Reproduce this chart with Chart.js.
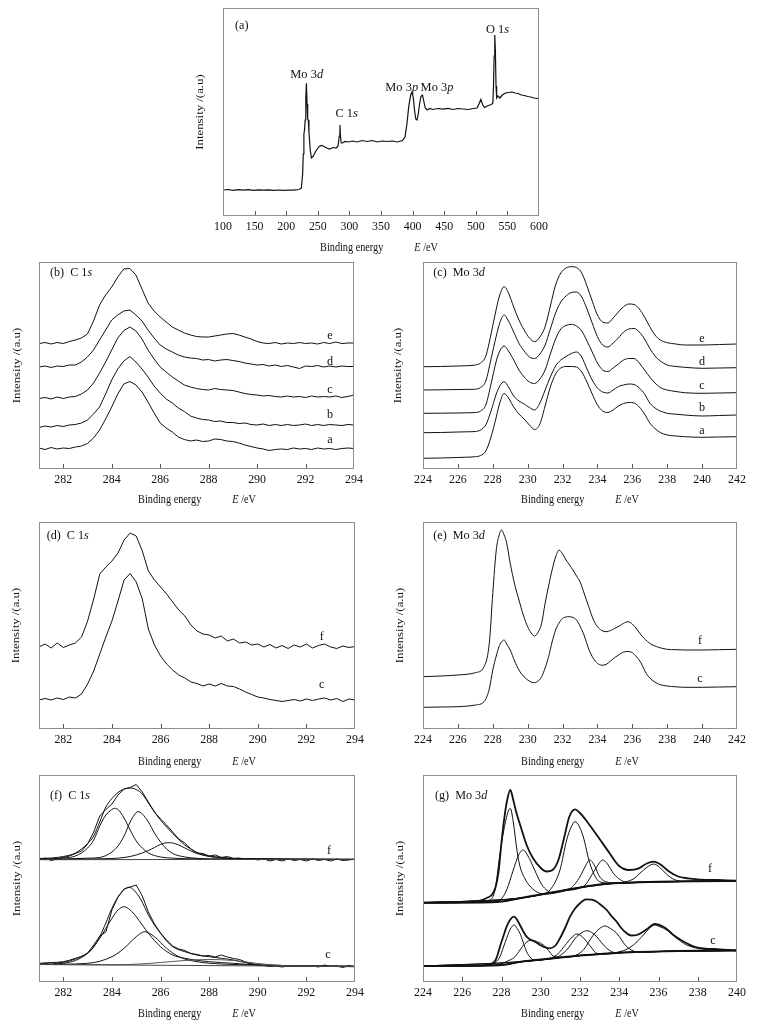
<!DOCTYPE html>
<html><head><meta charset="utf-8">
<script src="https://cdn.jsdelivr.net/npm/chart.js@4.4.1/dist/chart.umd.min.js"></script>
<style>
html,body{margin:0;padding:0;background:#fff;}
body{width:763px;height:1026px;position:relative;overflow:hidden;}
canvas{position:absolute;}
</style></head><body>
<canvas id="pa"></canvas><canvas id="pb"></canvas><canvas id="pc"></canvas>
<canvas id="pd"></canvas><canvas id="pe"></canvas><canvas id="pf"></canvas><canvas id="pg"></canvas>
<script>
// ---------- tick labels ----------
const ticksA = [100,150,200,250,300,350,400,450,500,550,600];
const ticksC1s = [282,284,286,288,290,292,294];
const ticksMo = [224,226,228,230,232,234,236,238,240,242];
const ticksMoG = [224,226,228,230,232,234,236,238,240];

// ---------- (a) survey ----------
const aX = [100,108,116,124,132,140,148,156,164,172,180,188,196,204,212,220,224,226,227,228,229,230,231,232,233,234,235,236,238,240,243,247,252,256,260,264,269,274,279,282,284,285,286,287,289,293,298,305,312,320,328,336,344,352,360,368,376,384,388,391,394,397,399,401,403,405,407,409,411,413,415,416,418,420,423,427,432,440,448,456,464,472,480,488,496,502,505,508,511,514,518,522,525,527,528,529,530,531,532,533,535,538,542,547,552,557,562,567,572,577,582,587,592,597,600];
const aY = [26,26.5,25.6,26.3,25.8,26.4,25.7,26.2,25.9,26.1,25.6,26,25.7,26,25.8,26.5,28,42,62,82,86,96,118,132.7,112,97,96,84,66,58,60,65,69.5,70.5,69.5,68,67,68.5,68,70,80,91,79,73,73,74.5,74,75,74,75.5,74.5,75.5,74,75,74.5,75,74,75.5,79,92,110,121,124,119,106,97,96,102,112,119,121,120,114,108,106,107.5,106.5,107.5,106.8,107.6,106.5,107.5,107,106.5,107.5,108,112,116.5,111,108.5,110,111,111.5,113,130,160,181,165,130,118,120,118,121,123,123.5,124,123,122.5,121,120.5,119.5,119,118,117.5,117.5];

// ---------- C 1s grid (b, d, f data) ----------
const c1sX = [281,281.25,281.5,281.75,282,282.25,282.5,282.75,283,283.25,283.5,283.75,284,284.25,284.5,284.75,285,285.25,285.5,285.75,286,286.25,286.5,286.75,287,287.25,287.5,287.75,288,288.25,288.5,288.75,289,289.25,289.5,289.75,290,290.25,290.5,290.75,291,291.25,291.5,291.75,292,292.25,292.5,292.75,293,293.25,293.5,293.75,294];
// (b)
const bA = [21,19.5,21.5,20,21,20.5,22,23,25.5,31,39,50,62,75,85,87.5,84,77,67,56,46,41,37,32,29.5,28,29,27.5,28,30,29.5,28,27.5,26,24,22.5,21,20,18.5,19.5,20,19.5,21,20,20.5,19.5,21,20,20.5,19.5,20.5,21,20.5];
const bB = [41.5,43,42,43.5,42.5,44,44.5,46,49,55,62,75,89,100,108,112.5,107,100,92,83,76,70,66,61,57.5,53,51,49.5,49,47.5,48,46.5,46.5,45.5,46,44.5,44,45,43.5,44.5,43.5,44.5,43.5,44,45,43.5,44.5,43.5,44.5,44,43.5,44.5,44];
const bC = [70.5,71.5,70,72,70.5,72,72.5,75,79,86,96,107,119,131,138.5,142,138,130,119,110,102,97,92,88,84,82,80.5,79.5,79,80.5,79.5,79,78.5,77,75.5,74.5,74,73,73.5,72.5,72,73,72,72.5,71.5,73,72,72.5,72,73,71.5,72.5,74];
const bD = [102,103,101.5,103,102.5,104,104,107,112,119,129,139,149,154,158,159,154,148,139,131,124,120,117,114,112,111,110.5,109,109.5,108,109,109.5,108.5,107.5,106,105,104,104.5,103,104,102.5,103.5,102,100.5,103,102.5,103.5,102,103,102,103,102.5,102.5];
const bE = [125.5,126.5,125,126.5,125.5,127.5,129,131,135,148,164,174,182,192,200,200.5,194,180,166,158,152,147,142,139,136,134,132.5,132,132,133,134,135,135.5,134,132,130,127.5,126,125.5,126.5,125,126,125.5,126.5,125.5,126,125,126.5,125.5,127,125.5,126,126];

// ---------- (c) Mo 3d ----------
const cX = [224,225,226,226.5,227,227.3,227.6,227.9,228.2,228.4,228.65,228.9,229.2,229.5,229.8,230.1,230.4,230.7,231,231.3,231.6,231.9,232.2,232.5,232.8,233.1,233.4,233.7,234,234.3,234.6,234.9,235.2,235.5,235.8,236.1,236.4,236.7,237,237.3,237.6,238,238.5,239,240,241,242];
const cA = [10.7,11,11.5,11.8,12.3,13.5,18,32,52,66,75.5,71,62,55,50,44,39.5,45,63,82,95,101,102.5,102.5,102,97,87,75,64,58,56.5,59,63,65.5,66.5,66,62,55,46,40.5,36.5,34,33,32.3,31.7,32,32.3];
const cB = [36.3,36.5,37,37.2,37.5,39,44,58,75,83,87.3,82,73,68,65,61.5,59,66,79,92,103,109,112.5,115.5,117,112,100,89,81,77,76,79,82.5,84,85,84.5,81,75,66,61,58,55.7,54.8,54,53,53.5,54];
const cC = [55.7,55.8,56,56.2,56.5,58,64,85,108,118,123,118,109,99,92,87,85.5,90,99,115,130,140,143.5,144.7,143,138,128,117,106,99,97.5,101,105,109,110.5,110.5,106,99,92,86,81.5,79,77.5,76.3,75.7,76,76.3];
const cD = [79,79.2,79.5,79.6,79.8,81.5,88,110,133,146,154,148,137,125.7,118,112,110.5,115,124,140,156,167,173,176.5,177,172,160,146,132.3,124,122,126,131,137,140,140.5,137,130,120.7,113,108,104,102.5,101.7,100.7,101,101.3];
const cE = [102.3,102.5,103,103.3,104,106,113,135,160,174,182.3,176,162,149,139,131,127.3,132,142.3,163,184,196,201,202.3,201.5,196,183,168,154,147,146,151,157,162.3,165,164.5,160,152,142.3,134,129,126.3,125,124,124,124.5,125];

// ---------- (d) C 1s ----------
const dF = [82,85,81,86,81.5,84,86,92,108,130,155,162,168,176,189,196,193,178,158,149,142,135,127,119,113,104,98,95,94,91,93,88,90,86,87,84,85,82,84.5,81,83.5,80.5,84,82,85,81,83.5,85,82,80.5,83,81.5,82.5];
const dC = [29,30.5,29,31,29.5,32,31,35,45,58,75,92,108,128,149,155.5,147,130,100,84,73,65,59,54,51,47,45.5,43,45,43,45.5,43,42.5,40,37,34.5,32,31,29.5,28.5,27.5,28.5,29.5,28,30,28.5,30,31,29,30.5,27.5,30,29];

// ---------- (e) Mo 3d ----------
const eX = [224,225,226,227,227.5,227.8,228,228.2,228.35,228.5,228.65,228.8,229,229.25,229.5,229.75,230,230.2,230.4,230.6,230.8,231,231.2,231.4,231.6,231.8,232,232.2,232.4,232.6,232.8,233,233.25,233.5,233.75,234,234.25,234.5,234.75,235,235.25,235.5,235.75,236,236.25,236.5,236.75,237,237.5,238,238.5,239,240,241,242];
const eF = [52.3,53,54,56.3,62.3,85.7,135.7,179,193,199,194,185.7,165.7,145,129,114,102.3,96,93,97,105.7,125.7,143,159,172,179,175,169,164,159,153,147.3,135,122.3,110,102.3,98.5,97.3,98.5,100.7,103,105.7,107.3,105,100,94,89.5,85.7,81.7,79.7,79.3,79,79,79.3,79.7];
const eC = [21.7,22,22.3,24,27.3,40,59,73,82,87,89,85,79,68,59,53,49,47,46.3,48,52.3,61,72.3,87,99,106,110.7,112,112.3,111.5,109,103,93,80,71,65.7,63.8,64.5,68,71.5,74.5,77,77.5,76.3,72,66,57,51,45,43,42.2,41.7,41.7,42,42.3];

// ---------- (f) C 1s fitting ----------
const fF = [122,124,121.5,123,124.5,126,128.5,131,138,150,166,172.5,178,187,193,194.5,197.5,190,180,170,163,157,150,143,139,133,129,128.5,126,127,124.5,125.5,123.5,124,122.5,123.5,122,123,121,122.5,121,123,121.5,122.5,121,123,121.5,122.5,121,123,121.5,122,123];
const fFenvX = [281,281.5,282,282.5,283,283.25,283.5,283.75,284,284.25,284.5,284.75,285,285.25,285.5,285.75,286,286.25,286.5,286.75,287,287.25,287.5,287.75,288,288.5,289,290,291,292,293,294];
const fFenvY = [123.5,124,125.5,129,138.5,146,160,175,183.5,189.5,193,194,192.5,188,179,170,162,155,148.5,142.5,137,133,129.5,127.5,126,124.7,123.7,123.3,123,122.8,122.6,122.5];
const fF1X = [281,282,282.5,283,283.25,283.5,283.75,284,284.1,284.25,284.5,284.75,285,285.25,285.5,285.75,286,286.5,287,288,290,294];
const fF1Y = [122.8,124,126,134,142,156,167,172.5,173.7,172.5,164,152,141,134,129,126.5,125,123.8,123.3,123,122.8,122.5];
const fF2X = [281,282,283,283.5,284,284.25,284.5,284.75,285,285.07,285.25,285.5,285.75,286,286.25,286.5,287,287.5,288,294];
const fF2Y = [122.5,123,123.8,124.5,130,136,146,160,169.5,170.3,168,160,149,140,133,128.5,125,123.7,123,122.5];
const fF3X = [281,284,284.5,285,285.5,285.75,286,286.3,286.5,286.75,287,287.25,287.5,288,288.5,289,294];
const fF3Y = [122.6,123.5,124.5,127,131.5,134.5,137.5,139.3,139,137,134,131,128.5,125.5,124,123.3,122.8];
const fFbgX = [281,294];
const fFbgY = [122.3,122.7];
const fC = [17,18.5,17.5,19,19.5,21,23,25.5,29,37,46,50,72,85,93,95,97,86,70,58,49,42,36,33,31.5,28.5,27.5,26,26.5,25,27,25,23.5,22.5,20,18.5,17,16.5,15.5,16,15,16,15.5,16.5,15.5,16,15,17,15.5,16,14.5,16.5,15];
const fCenvX = [281,281.5,282,282.5,283,283.25,283.5,283.75,284,284.25,284.5,284.7,284.9,285.2,285.5,285.75,286,286.25,286.5,287,287.5,288,288.5,289,289.5,290,291,292,294];
const fCenvY = [18.7,19.5,20.3,23.7,28.7,35,45.3,59,73.7,85,92.5,94.7,92,82,67,57,48.7,41,35.3,30.3,27,25.3,23.7,22,19.3,17,16,15.7,15.3];
const fC1X = [281,282,283,283.5,284,284.25,284.5,284.75,285,285.5,286,286.5,287,288,289,290,294];
const fC1Y = [17.8,18.7,28.7,43.7,63.7,72,75.3,72,65.3,48.7,35.3,27,23.7,20.3,18.7,17,16];
const fC2X = [281,283,284,284.5,285,285.35,285.75,286.25,286.75,287.5,288.5,290,294];
const fC2Y = [17.5,18.7,25.3,33.7,45.3,50.3,45.3,33.7,25.3,20.3,18,17,15.5];
const fC3X = [281,284,285,286,287,288,289,290,291,294];
const fC3Y = [17.5,17.2,17.8,19.5,21.5,22.5,21.5,18.5,16.5,15.5];
const fCbgX = [281,294];
const fCbgY = [17.5,15.5];

// ---------- (g) Mo 3d fitting ----------
const gFenvX = [224,225,226,226.5,227,227.3,227.5,227.7,227.85,228,228.15,228.3,228.45,228.6,228.75,229,229.3,229.6,230,230.3,230.6,230.9,231.2,231.45,231.75,232,232.3,232.6,233,233.5,234,234.5,235,235.4,235.75,236.1,236.5,237,237.5,238,239,240];
const gFenvY = [79.3,79.4,79.8,80.5,82,84.5,87,95,110,140,165,183,192,182,170,154,136,124,114,110.5,112,122,145,165,172.7,169,162,154,143,129,116,112,113.7,118.5,120.3,117.5,111,105.5,103.7,102.7,102,101.3];
const gF1X = [224,226,227,227.4,227.67,227.9,228.1,228.3,228.45,228.6,228.8,228.95,229.2,229.4,229.8,230.2,230.6,231,232,233,234,236,240];
const gF1Y = [79.3,79.8,81,82,92,125,150,168,173.7,160,130,115,103,97,90,88,88.5,91,94.5,97.5,99,100.2,101];
const gF2X = [224,227,227.9,228.26,228.6,228.85,229.1,229.35,229.62,229.9,230.13,230.64,231.3,232,233,234,236,240];
const gF2Y = [79.3,80.5,82,92,112,126,132,126,115,103,95.3,89,91.5,94.5,97.5,99,100.2,101];
const gF3X = [224,228,229,229.96,230.47,230.98,231.32,231.55,231.75,231.95,232.17,232.5,233,233.7,234.5,236,240];
const gF3Y = [79.3,80.5,84,87.5,92,112,142,155,160.3,156,145,118.7,100.3,98.7,99.2,100.2,101];
const gF4X = [224,229,230.5,231.5,232,232.25,232.5,232.75,233,233.5,234,236,240];
const gF4Y = [79.3,84,89.5,93.5,105.3,115,122,116,105.3,99.5,99,100.2,101];
const gF5X = [224,229,231,232.2,232.7,232.95,233.15,233.4,233.7,234,234.4,235,236,240];
const gF5Y = [79.3,84,91,96,110.3,118,122,118,108.7,103,99.7,99.8,100.2,101];
const gF6X = [224,229,232,234,234.4,234.8,235.05,235.4,235.75,236.1,236.4,236.8,237.1,238,240];
const gF6Y = [79.3,84,94.5,99.2,100.5,104,108.7,114.5,118,114,108,102.5,101,100.7,101];
const gFbgX = [224,227.5,228,229,230,231,232,233,234,235,236,238,240];
const gFbgY = [79.3,79.8,80.5,84,87.5,91,94.5,97.5,99,99.7,100.2,100.7,101];
const gCenvX = [224,225,226,226.8,227.24,227.5,227.67,227.8,227.92,228.1,228.26,228.45,228.64,228.8,228.94,229.1,229.28,229.5,229.7,230.13,230.47,230.75,230.98,231.25,231.49,231.75,232,232.3,232.6,232.85,233.1,233.36,233.6,233.87,234.1,234.38,234.6,234.89,235.15,235.4,235.82,236.25,236.5,236.76,237.1,237.44,237.8,238.28,239.13,240];
const gCenvY = [16,16.1,16.3,16.6,17.2,18.5,21,27,35.3,46,55.3,62.5,65.3,62,57,51,45.3,42,40.3,35.3,33.7,36.5,43.7,54.5,65.3,73.5,78.7,82.7,82.3,80.3,76.5,72,66,60.3,54,48.7,46.5,47,49.5,52.7,58,55.3,51.5,47,42.5,38.7,35.5,33.7,32.7,31.5];
const gC1X = [224,227,227.6,227.92,228.1,228.26,228.45,228.65,228.8,228.94,229.1,229.28,229.5,229.7,230.13,231,232,234,236,240];
const gC1Y = [16,16.5,18.5,25.3,35,43.7,53,57,53.5,48.7,40,30.3,24,21.8,22.2,24.5,26.5,29.3,30.5,31.5];
const gC2X = [224,227.5,228.43,228.7,228.94,229.2,229.54,229.85,230.13,230.4,230.64,231.15,232,234,236,240];
const gC2Y = [16,16.5,22,25.5,32,38.5,42,40,37,31.5,26,24.8,26.5,29.3,30.5,31.5];
const gC3X = [224,228,229,230.3,230.81,231.32,231.6,231.83,232.1,232.34,232.6,232.85,233.36,234,236,240];
const gC3Y = [16,17,20.3,23,27,38.7,45,48,45.5,40.3,34,28.7,28,29.3,30.5,31.5];
const gC4X = [224,228,229,230.5,230.81,231.32,231.83,232.1,232.35,232.6,232.85,233.36,233.87,234.5,236,240];
const gC4Y = [16,17,20.3,23.3,24.5,32,45.3,49.5,51.3,49.5,45.3,33.7,29,29.6,30.5,31.5];
const gC5X = [224,229,231,231.66,232.17,232.68,233,233.27,233.55,233.87,234.38,234.89,235.5,237,240];
const gC5Y = [16,20.3,24.5,25.8,32,47,53.5,56,53.5,48.7,35.3,30.3,30.2,31,31.5];
const gC6X = [224,229,232,234.21,234.72,235.23,235.5,235.8,236.1,236.42,236.93,237.44,238.28,239,240];
const gC6Y = [16,20.3,26.5,31.3,37,47,53,57,55,52,43.7,37,32.7,32,31.5];
const gCbgX = [224,226,227.5,228,229,230,231,232,233,234,235,236,237,238,240];
const gCbgY = [16,16.2,16.5,17,20.3,22.5,24.5,26.5,28,29.3,30,30.5,31,31.3,31.5];

// ---------- drawing helpers ----------
const SERIF = '"Liberation Serif","Times New Roman",serif';
function fnt(sz, it){ return (it ? 'italic ' : '') + sz + 'px ' + SERIF; }
function drawRich(ctx, segs, x, y, o){
  const sz = o.size || 13, sx = o.sx || 1;
  ctx.save();
  ctx.translate(x, y);
  if (o.rot) { ctx.rotate(-Math.PI/2); ctx.scale(1, sx); } else { ctx.scale(sx, 1); }
  const ws = segs.map(s => { if (typeof s === 'number') return s; ctx.font = fnt(sz, s[1]); return ctx.measureText(s[0]).width; });
  const W = ws.reduce((p, q) => p + q, 0);
  let cx = o.align === 'left' ? 0 : (o.align === 'right' ? -W : -W/2);
  ctx.textBaseline = 'middle'; ctx.textAlign = 'left'; ctx.fillStyle = '#111';
  segs.forEach((s, i) => { if (typeof s !== 'number') { ctx.font = fnt(sz, s[1]); ctx.fillText(s[0], cx, 0); } cx += ws[i]; });
  ctx.restore();
}
const yTitle = (x, y) => ({s:[['Intensity /(a.u)']], x, y, rot:1, size:12.8, sx:0.85});
const xTitle = (x, y) => ({s:[['Binding energy'], 31/0.8, ['E',1], [' /eV']], x, y, size:12.8, sx:0.8});
const lab = (t, x, y) => ({s:[[t]], x, y, size:13.5, sx:0.9});
const panelLab = (p, el, orb, x, y) => ({s:[[p], 6/0.9, [el], [orb,1]], x, y, align:'left', size:13.5, sx:0.9});

function S(xs, ys, o){ return Object.assign({xs, ys}, o || {}); }

function makePanel(p){
  const cv = document.getElementById(p.id);
  const [bx, by, bw, bh] = p.box, [al, at, ar, ab] = p.area;
  cv.style.left = bx + 'px'; cv.style.top = by + 'px';
  cv.width = bw; cv.height = bh;
  cv.style.width = bw + 'px'; cv.style.height = bh + 'px';
  const deco = {
    id: 'deco_' + p.id,
    afterDatasetsDraw(chart){
      const ctx = chart.ctx, a = chart.chartArea, xs = chart.scales.x;
      ctx.save();
      ctx.strokeStyle = '#8c8c8c'; ctx.lineWidth = 1;
      ctx.strokeRect(Math.round(a.left) + 0.5, Math.round(a.top) + 0.5, Math.round(a.right - a.left) - 1, Math.round(a.bottom - a.top) - 1);
      ctx.strokeStyle = '#555';
      p.ticks.forEach(v => {
        if (v <= p.xr[0] || v >= p.xr[1]) return;
        const px = Math.round(xs.getPixelForValue(v)) + 0.5;
        ctx.beginPath(); ctx.moveTo(px, a.bottom - 1); ctx.lineTo(px, a.bottom - 5); ctx.stroke();
      });
      p.ticks.forEach(v => drawRich(ctx, [[String(v)]], xs.getPixelForValue(v), a.bottom + 10, {size:13.5, sx:0.88}));
      p.texts.forEach(t => drawRich(ctx, t.s, t.x - bx, t.y - by, t));
      ctx.restore();
    }
  };
  new Chart(cv, {
    type: 'line',
    data: { datasets: p.series.map(s => ({
      data: s.xs.map((x, i) => ({x: x, y: s.ys[i]})),
      borderColor: s.c || '#111', borderWidth: s.w || 1, pointRadius: 0, fill: false,
      tension: s.sm ? 0.4 : 0, cubicInterpolationMode: s.sm ? 'monotone' : 'default'
    })) },
    options: {
      responsive: false, animation: false, events: [],
      layout: { padding: { left: al - bx, top: at - by, right: bx + bw - ar, bottom: by + bh - ab } },
      plugins: { legend: {display: false}, tooltip: {enabled: false} },
      scales: {
        x: { type: 'linear', display: false, min: p.xr[0], max: p.xr[1] },
        y: { type: 'linear', display: false, min: 0, max: ab - at }
      }
    },
    plugins: [deco]
  });
}

const panels = [
  { id:'pa', box:[180,0,380,258], area:[223,8,539,216], xr:[100,600], ticks:ticksA,
    series:[S(aX, aY, {w:1.2})],
    texts:[yTitle(200,112), xTitle(379,248),
      {s:[['(a)']], x:235, y:25, align:'left', size:13.5, sx:0.9},
      {s:[['Mo 3'],['d',1]], x:306.7, y:74, size:13.5, sx:0.92},
      {s:[['C 1'],['s',1]], x:346.7, y:113, size:13.5, sx:0.92},
      {s:[['Mo 3'],['p',1]], x:401.7, y:87, size:13.5, sx:0.92},
      {s:[['Mo 3'],['p',1]], x:437, y:87, size:13.5, sx:0.92},
      {s:[['O 1'],['s',1]], x:497.5, y:29, size:13.5, sx:0.92}] },
  { id:'pb', box:[0,258,380,254], area:[39,262,354,469], xr:[281,294], ticks:ticksC1s,
    series:[S(c1sX,bA),S(c1sX,bB),S(c1sX,bC),S(c1sX,bD),S(c1sX,bE)],
    texts:[yTitle(17,365.5), xTitle(197,500), panelLab('(b)','C 1','s',50,272.7),
      lab('e',330,335), lab('d',330,361.7), lab('c',330,389.3), lab('b',330,414.3), lab('a',330,439.3)] },
  { id:'pc', box:[380,258,383,254], area:[423,262,737,469], xr:[224,242], ticks:ticksMo,
    series:[S(cX,cA,{sm:1}),S(cX,cB,{sm:1}),S(cX,cC,{sm:1}),S(cX,cD,{sm:1}),S(cX,cE,{sm:1})],
    texts:[yTitle(398,365.5), xTitle(580,500), panelLab('(c)','Mo 3','d',433.3,272.7),
      lab('e',702,338.3), lab('d',702,361), lab('c',702,385), lab('b',702,407.3), lab('a',702,430.7)] },
  { id:'pd', box:[0,512,380,258], area:[39,522,355,729], xr:[281,294], ticks:ticksC1s,
    series:[S(c1sX,dF),S(c1sX,dC)],
    texts:[yTitle(16.5,625.5), xTitle(197,761.7), panelLab('(d)','C 1','s',46.7,535),
      lab('f',321.7,636.7), lab('c',321.7,684)] },
  { id:'pe', box:[380,512,383,258], area:[423,522,737,729], xr:[224,242], ticks:ticksMo,
    series:[S(eX,eF,{sm:1}),S(eX,eC,{sm:1})],
    texts:[yTitle(400,625.5), xTitle(580,761.7), panelLab('(e)','Mo 3','d',433.3,535),
      lab('f',700,640), lab('c',700,678.3)] },
  { id:'pf', box:[0,770,380,256], area:[39,775,355,982], xr:[281,294], ticks:ticksC1s,
    series:[S(fFbgX,fFbgY,{c:'#444'}),S(fF1X,fF1Y,{sm:1}),S(fF2X,fF2Y,{sm:1}),S(fF3X,fF3Y,{sm:1}),
      S(fFenvX,fFenvY,{sm:1}),S(c1sX,fF),
      S(fCbgX,fCbgY,{c:'#444'}),S(fC3X,fC3Y,{sm:1,c:'#555'}),S(fC1X,fC1Y,{sm:1}),S(fC2X,fC2Y,{sm:1}),
      S(fCenvX,fCenvY,{sm:1}),S(c1sX,fC)],
    texts:[yTitle(17,878.5), xTitle(197,1014), panelLab('(f)','C 1','s',50,795),
      lab('f',329,850), lab('c',328,954.3)] },
  { id:'pg', box:[380,770,383,256], area:[423,775,737,982], xr:[224,240], ticks:ticksMoG,
    series:[S(gFbgX,gFbgY,{sm:1,w:2}),S(gF1X,gF1Y,{sm:1}),S(gF2X,gF2Y,{sm:1}),S(gF3X,gF3Y,{sm:1}),
      S(gF4X,gF4Y,{sm:1}),S(gF5X,gF5Y,{sm:1}),S(gF6X,gF6Y,{sm:1}),S(gFenvX,gFenvY,{sm:1,w:1.8}),
      S(gCbgX,gCbgY,{sm:1,w:2}),S(gC1X,gC1Y,{sm:1}),S(gC2X,gC2Y,{sm:1}),S(gC3X,gC3Y,{sm:1}),
      S(gC4X,gC4Y,{sm:1}),S(gC5X,gC5Y,{sm:1}),S(gC6X,gC6Y,{sm:1}),S(gCenvX,gCenvY,{sm:1,w:1.8})],
    texts:[yTitle(400,878.5), xTitle(580,1014), panelLab('(g)','Mo 3','d',435,795),
      lab('f',710,868.3), lab('c',713,940)] }
];
panels.forEach(makePanel);
</script>
</body></html>
